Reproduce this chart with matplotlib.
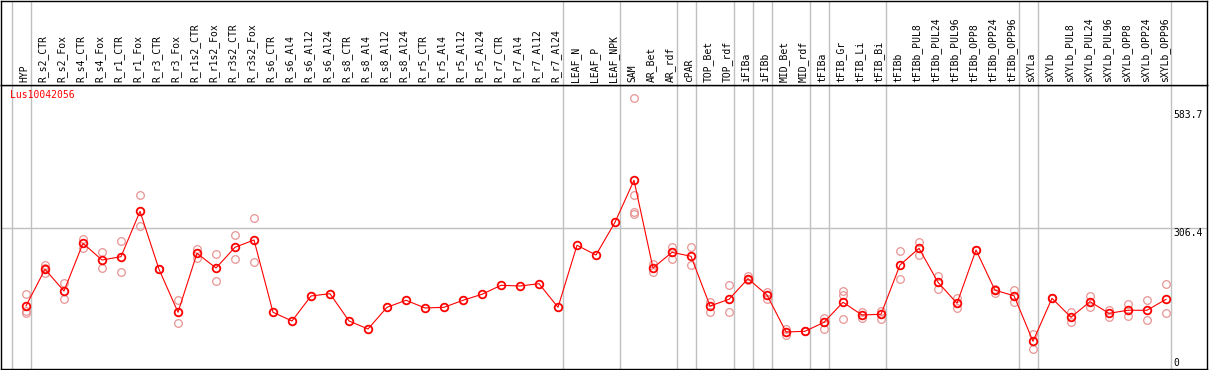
import numpy as np
import matplotlib
matplotlib.use("Agg")
import matplotlib.pyplot as plt

# column labels
labels = ["HYP", "R_s2_CTR", "R_s2_Fox", "R_s4_CTR", "R_s4_Fox", "R_r1_CTR", "R_r1_Fox",
          "R_r3_CTR", "R_r3_Fox", "R_r1s2_CTR", "R_r1s2_Fox", "R_r3s2_CTR", "R_r3s2_Fox",
          "R_s6_CTR", "R_s6_Al4", "R_s6_Al12", "R_s6_Al24", "R_s8_CTR", "R_s8_Al4",
          "R_s8_Al12", "R_s8_Al24", "R_r5_CTR", "R_r5_Al4", "R_r5_Al12", "R_r5_Al24",
          "R_r7_CTR", "R_r7_Al4", "R_r7_Al12", "R_r7_Al24", "LEAF_N", "LEAF_P", "LEAF_NPK",
          "SAM", "AR_Bet", "AR_rdf", "cPAR", "TOP_Bet", "TOP_rdf", "iFIBa", "iFIBb",
          "MID_Bet", "MID_rdf", "tFIBa", "tFIB_Gr", "tFIB_Li", "tFIB_Bi", "tFIBb",
          "tFIBb_PUL8", "tFIBb_PUL24", "tFIBb_PUL96", "tFIBb_OPP8", "tFIBb_OPP24",
          "tFIBb_OPP96", "sXYLa", "sXYLb", "sXYLb_PUL8", "sXYLb_PUL24", "sXYLb_PUL96",
          "sXYLb_OPP8", "sXYLb_OPP24", "sXYLb_OPP96"]

# mean expression per sample
means = [123.0, 209.3, 158.2, 270.4, 231.1, 238.9, 345.6, 209.3, 108.2, 246.9, 212.3,
         261.0, 278.2, 108.2, 87.7, 146.5, 151.9, 87.7, 68.9, 119.9, 136.4, 118.3, 119.9,
         136.4, 150.5, 171.6, 170.0, 175.4, 119.9, 265.7, 242.9, 319.8, 418.5, 212.3,
         249.2, 239.8, 123.0, 138.7, 187.2, 148.8, 61.8, 63.5, 84.6, 131.7, 101.8, 103.5,
         219.4, 258.6, 178.7, 129.3, 254.6, 159.9, 147.2, 40.0, 141.1, 96.4, 133.1, 105.8,
         112.9, 112.9, 138.7]

# replicate values per sample
reps = [[150.5, 111.9, 105.8], [218.7, 212.3, 200.6], [176.3, 138.7], [279.8, 259.3],
        [249.2, 211.6], [275.1, 202.2], [383.3, 310.4], [209.3, 209.3], [137.1, 82.3],
        [257.7, 236.5], [244.5, 181.0], [289.2, 233.5], [329.2, 225.7],
        [], [], [], [], [], [], [], [], [], [], [], [], [], [], [], [], [], [], [],
        [611.3, 383.3, 344.7, 338.6], [221.7, 203.6], [261.0, 234.2], [261.0, 218.7],
        [133.1, 109.6], [171.6, 108.2], [193.5, 184.1], [156.6, 140.1], [68.2, 54.8],
        [63.5, 63.5], [94.1, 68.2], [158.9, 148.8, 92.4], [109.6, 94.1], [111.9, 91.7],
        [252.3, 186.5], [274.2, 242.9], [194.2, 162.9], [141.1, 117.6], [254.6, 254.6],
        [162.9, 152.8], [161.3, 131.7], [57.8, 21.2], [141.1, 141.1], [109.6, 84.6],
        [147.2, 121.3], [113.6, 97.8], [127.7, 100.2], [137.1, 89.3], [173.9, 105.8]]

# sample groups end after these columns (vertical separators)
group_ends = [-1, 0, 28, 31, 34, 35, 37, 38, 39, 41, 42, 45, 52, 53, 60]

ytick_vals = [0, 306.4, 583.7]
ytick_text = ["0", "306.4", "583.7"]
gene = "Lus10042056"

W, H = 1209, 370
fig = plt.figure(figsize=(W / 100, H / 100), dpi=100)
mono = "DejaVu Sans Mono"

x = np.arange(len(labels))
xlim = (-25 / 19, 1181 / 19)

ax = fig.add_axes([1 / W, 1 / H, 1206 / W, 284 / H])
lab = fig.add_axes([1 / W, 285 / H, 1206 / W, 84 / H])
for a in (ax, lab):
    a.set_xlim(*xlim)
    a.set_xticks([])
    a.set_yticks([])
    for s in a.spines.values():
        s.set_linewidth(1.0)
        s.set_color("black")
    for g in group_ends:
        a.axvline(g + 0.24, color="#c0c0c0", lw=1.0, zorder=0)

ax.set_ylim(-25.2, 642.6)
lab.set_ylim(0, 1)
ax.axhline(306.4, color="#c0c0c0", lw=1.0, zorder=0)

# replicates
for i, r in enumerate(reps):
    if r:
        ax.plot([i] * len(r), r, "o", ms=5.5, mfc="none", mec="#e89494", mew=0.9, zorder=2)

# means
ax.plot(x, means, "-", color="red", lw=0.8, zorder=3)
ax.plot(x, means, "o", ms=5.5, mfc="none", mec="red", mew=1.3, zorder=4)

for i, t in enumerate(labels):
    lab.text(i - 0.1, 0.03, t, rotation=90, ha="center", va="bottom",
             family=mono, fontsize=7)

for v, t in zip(ytick_vals, ytick_text):
    ax.text(60.4, v, t, ha="left", va="top", family=mono, fontsize=7)

ax.text(-0.85, 1.0, gene, transform=ax.get_xaxis_transform(), ha="left", va="top",
        family=mono, fontsize=7, color="red")
# move the gene label slightly below the top edge
ax.texts[-1].set_y(0.983)

fig.savefig("out.png", dpi=100)
